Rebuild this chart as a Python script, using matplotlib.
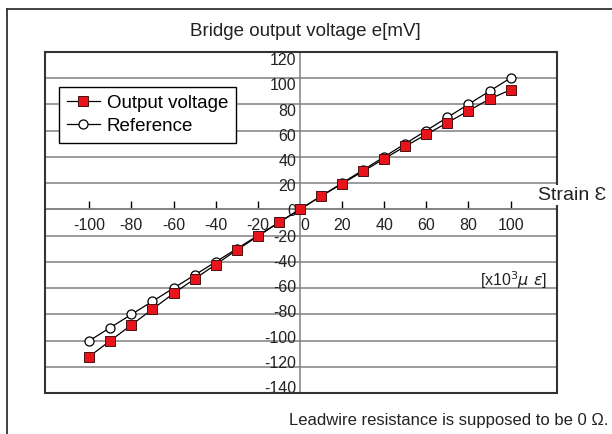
import matplotlib.pyplot as plt
from matplotlib.patches import Rectangle
from matplotlib.lines import Line2D

plt.rcParams['font.family'] = ['Liberation Sans', 'DejaVu Sans']

# strain in x10^3 micro-strain, voltages in mV
strain = [-100, -90, -80, -70, -60, -50, -40, -30, -20, -10, 0,
          10, 20, 30, 40, 50, 60, 70, 80, 90, 100]
output_voltage = [-112, -100, -88, -76, -64, -53, -42, -31, -20.5, -10, 0,
                  10, 19.5, 29, 38.5, 48, 57, 66, 75, 84, 91]
reference = [-100, -90, -80, -70, -60, -50, -40, -30, -20, -10, 0,
             10, 20, 30, 40, 50, 60, 70, 80, 90, 100]

y_grid = [-140, -120, -100, -80, -60, -40, -20, 0, 20, 40, 60, 80, 100, 120]
x_ticks = [-100, -80, -60, -40, -20, 20, 40, 60, 80, 100]

fig = plt.figure(figsize=(6.12, 4.34), dpi=100)
ax = fig.add_axes([0.0735, 0.0938, 0.8366, 0.7871])
ax.set_xlim(-121, 122)
ax.set_ylim(-140, 120)

# spines: only the bottom one is kept, moved onto y=0
for s in ['top', 'right', 'left']:
    ax.spines[s].set_visible(False)
ax.spines['bottom'].set_position(('data', 0))
ax.spines['bottom'].set_color('#808080')
ax.spines['bottom'].set_linewidth(1.1)

ax.set_xticks(x_ticks)
ax.set_xticklabels([str(v) for v in x_ticks])
ax.tick_params(axis='x', direction='in', length=6, width=1,
               pad=6, labelsize=11.5, colors='#222222')
ax.tick_params(axis='x', color='black')

ax.set_yticks(y_grid)
ax.tick_params(axis='y', length=0, labelleft=False)
ax.grid(axis='y', color='#808080', lw=1.1)
ax.axvline(0, color='#808080', lw=1.1)

# y labels sit next to the vertical axis line
for v in y_grid:
    ax.text(-1.7, 0.96 * v - 2, str(v), ha='right', va='center',
            fontsize=11.5, color='#222222')
ax.text(2.4, -6.5, '0', ha='center', va='top', fontsize=11.5, color='#222222')

# plot box
ax.add_patch(Rectangle((0, 0), 1, 1, transform=ax.transAxes, fill=False,
                       ec='#333333', lw=1.5, clip_on=False, zorder=5))

ref_line, = ax.plot(strain, reference, color='black', lw=0.9, marker='o',
                    ms=6.5, mfc='white', mec='black', mew=0.9, zorder=3,
                    label='Reference')
out_line, = ax.plot(strain, output_voltage, color='black', lw=0.9, marker='s',
                    ms=7.5, mfc='#e8141c', mec='#4a1010', mew=0.7, zorder=4,
                    label='Output voltage')

leg = ax.legend(handles=[out_line, ref_line], loc='upper left',
                bbox_to_anchor=(0.027, 0.897), fontsize=13.5, frameon=True,
                fancybox=False, edgecolor='black', framealpha=1,
                borderpad=0.43, handlelength=1.76, handletextpad=0.37,
                labelspacing=0.3, borderaxespad=0)
leg.get_frame().set_linewidth(1.0)
leg.set_zorder(6)

fig.text(305 / 612, 1 - 32 / 434, 'Bridge output voltage e[mV]',
         ha='center', va='center', fontsize=13.5, color='#222222')
fig.text(572 / 612, 1 - 195 / 434, 'Strain \u0190', ha='center', va='center',
         fontsize=14, color='#222222',
         bbox=dict(facecolor='white', edgecolor='none', pad=1))
fig.text(547 / 612, 1 - 280 / 434, r'[x10$^3$$\mu\ \varepsilon$]',
         ha='right', va='center', fontsize=11.5, color='#222222')
fig.text(608 / 612, 1 - 420 / 434, 'Leadwire resistance is supposed to be 0 \u03a9.',
         ha='right', va='center', fontsize=12, color='#222222')

# outer frame (left and top edges)
fig.add_artist(Line2D([6.5 / 612, 6.5 / 612], [0, 1 - 9 / 434],
                      transform=fig.transFigure, color='#333333', lw=1.3))
fig.add_artist(Line2D([6.5 / 612, 1], [1 - 9 / 434, 1 - 9 / 434],
                      transform=fig.transFigure, color='#333333', lw=1.3))

fig.savefig('out.png', dpi=100)
